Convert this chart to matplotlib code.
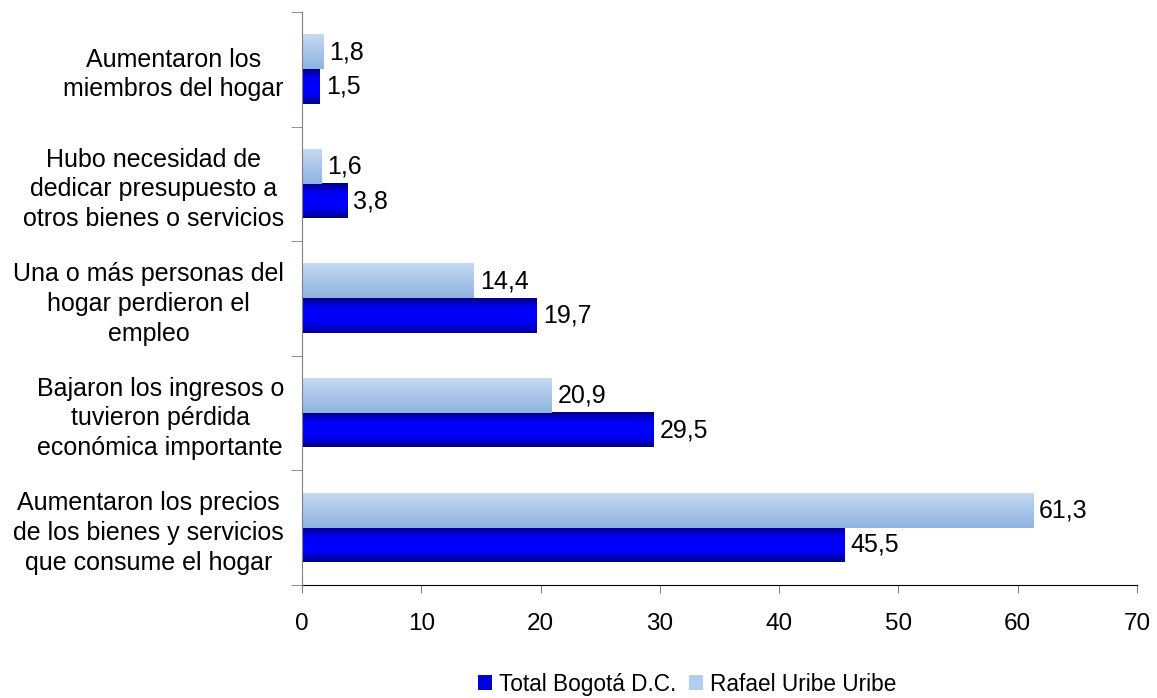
import numpy as np
import matplotlib
matplotlib.use('Agg')
import matplotlib.pyplot as plt
from matplotlib.colors import LinearSegmentedColormap
from matplotlib.patches import Patch

plt.rcParams['font.family'] = ['Liberation Sans', 'DejaVu Sans']

# Categories from bottom to top
categories = ['Aumentaron los precios\nde los bienes y servicios\nque consume el hogar',
              'Bajaron los ingresos o\ntuvieron pérdida\neconómica importante',
              'Una o más personas del\nhogar perdieron el\nempleo',
              'Hubo necesidad de\ndedicar presupuesto a\notros bienes o servicios',
              'Aumentaron los\nmiembros del hogar']
total_bogota = [45.5, 29.5, 19.7, 3.8, 1.5]
rafael_uribe = [61.3, 20.9, 14.4, 1.6, 1.8]
x_ticks = [0, 10, 20, 30, 40, 50, 60, 70]

dark_cmap = LinearSegmentedColormap.from_list('dark', ['#000080', '#0000f0', '#0000ff', '#0000f0', '#000080'])
light_cmap = LinearSegmentedColormap.from_list('light', ['#8db3e2', '#c6d9f1'])

fig = plt.figure(figsize=(11.57, 6.98), dpi=100)
ax = fig.add_axes([0.261, 0.162, 0.7217, 0.8208])

y = np.arange(len(categories))
h = 0.3
bars_dark = ax.barh(y - h / 2, total_bogota, height=h, color='#0000ff')
bars_light = ax.barh(y + h / 2, rafael_uribe, height=h, color='#a9c4ea')

grad = np.linspace(0, 1, 256).reshape(-1, 1)
for bars, cmap in [(bars_dark, dark_cmap), (bars_light, light_cmap)]:
    for b in bars:
        x0, y0 = b.get_x(), b.get_y()
        ax.imshow(grad, extent=[x0, x0 + b.get_width(), y0, y0 + b.get_height()],
                  origin='lower', aspect='auto', cmap=cmap, zorder=2)
        b.set_visible(False)

# value labels
for bars, vals in [(bars_dark, total_bogota), (bars_light, rafael_uribe)]:
    for b, v in zip(bars, vals):
        ax.text(v + 0.5, b.get_y() + b.get_height() / 2, f'{v:.1f}'.replace('.', ','),
                va='center', ha='left', fontsize=18)

ax.set_xlim(0, 70)
ax.set_ylim(-0.5, len(categories) - 0.5)
ax.set_xticks(x_ticks)
ax.tick_params(axis='x', labelsize=17.5, length=6, direction='out', pad=14, color='#808080')

ax.set_yticks(y)
ax.set_yticklabels(categories, fontsize=18, multialignment='center', linespacing=1.3)
ax.tick_params(axis='y', which='major', length=0, pad=13)
ax.set_yticks(np.arange(-0.5, len(categories), 1), minor=True)
ax.tick_params(axis='y', which='minor', length=8, color='#808080')

for s in ['top', 'right']:
    ax.spines[s].set_visible(False)
ax.spines['left'].set_color('#808080')
ax.spines['bottom'].set_color('black')
ax.spines['left'].set_zorder(3)

handles = [Patch(facecolor='#0000dd', edgecolor='none', label='Total Bogotá D.C.'),
           Patch(facecolor='#b3cdef', edgecolor='none', label='Rafael Uribe Uribe')]
fig.legend(handles=handles, loc='center', bbox_to_anchor=(0.594, 0.02), ncol=2,
           frameon=False, fontsize=16.3, handlelength=0.6, handleheight=0.6,
           handletextpad=0.3, columnspacing=0.6)

fig.savefig('out.png', dpi=100)
